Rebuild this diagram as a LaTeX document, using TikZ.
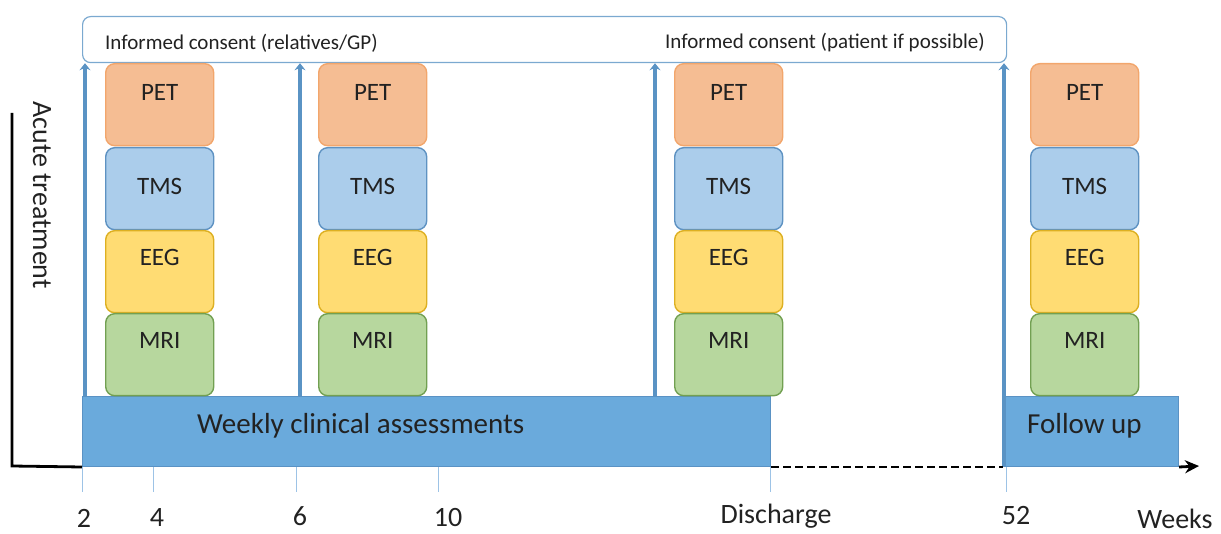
\documentclass[tikz,border=0pt]{standalone}
\usepackage{fontspec}
\setmainfont{Carlito}
\usetikzlibrary{arrows.meta}

\definecolor{petfill}{HTML}{F5BD93}
\definecolor{petdraw}{HTML}{F2A66C}
\definecolor{tmsfill}{HTML}{ABCDEB}
\definecolor{tmsdraw}{HTML}{5E92C2}
\definecolor{eegfill}{HTML}{FFDC73}
\definecolor{eegdraw}{HTML}{DDB022}
\definecolor{mrifill}{HTML}{B7D79E}
\definecolor{mridraw}{HTML}{72A052}
\definecolor{bandfill}{HTML}{6AAADC}
\definecolor{banddraw}{HTML}{5A92C4}
\definecolor{visitblue}{HTML}{5A93C4}
\definecolor{tickblue}{HTML}{9DC3E6}
\definecolor{inkgrey}{HTML}{222222}

\begin{document}
\begin{tikzpicture}[
  x=1pt, y=-1pt,
  % Node styles
  scan/.style={line width=1.4pt, rounded corners=9pt, minimum width=108pt, minimum height=82pt, anchor=north west, inner sep=0pt},
  pet/.style={scan, fill=petfill, draw=petdraw},
  tms/.style={scan, fill=tmsfill, draw=tmsdraw},
  eeg/.style={scan, fill=eegfill, draw=eegdraw},
  mri/.style={scan, fill=mrifill, draw=mridraw},
  band/.style={fill=bandfill, draw=banddraw, line width=1pt, anchor=north west, inner sep=0pt, minimum height=70pt},
  consent/.style={draw=visitblue!80, fill=white, line width=1.2pt, rounded corners=8pt, anchor=north west, inner sep=0pt},
  % Edge styles
  visit/.style={-{Stealth[length=7pt, width=11pt]}, visitblue, line width=4.5pt},
  axis/.style={black, line width=2.8pt},
  tick/.style={tickblue, line width=0.8pt},
  % Label styles
  lbl/.style={font=\fontsize{25}{30}\selectfont, text=inkgrey, inner sep=0pt},
  small/.style={font=\fontsize{21}{25}\selectfont, text=inkgrey, inner sep=0pt},
  big/.style={font=\fontsize{28}{34}\selectfont, text=inkgrey, inner sep=0pt},
  huge/.style={font=\fontsize{29}{35}\selectfont, text=inkgrey, inner sep=0pt},
]
\useasboundingbox (0,0) rectangle (1221,534);

% === CONSENT BAR ===
\node[consent, minimum width=924pt, minimum height=46pt] (consent) at (82,16) {};
\node[small, anchor=west] (relatives) at (105,43) {Informed consent (relatives/GP)};
\node[small, anchor=east] (patient)   at (985,43) {Informed consent (patient if possible)};

% === BANDS ===
\node[band, minimum width=688pt] (weekly) at (82,396) {};
\node[huge, anchor=west] (weeklytxt) at (197,426) {Weekly clinical assessments};
\node[band, minimum width=175pt] (follow) at (1003,396) {};
\node[huge, anchor=west] (followtxt) at (1027,426) {Follow up};

% === MEASUREMENT STACKS ===
\foreach \col/\x in {1/105, 2/318, 3/674, 4/1030} {
  \foreach \row/\y/\dy/\name in {pet/63/29/PET, tms/147/39/TMS, eeg/230/27/EEG, mri/313/27/MRI} {
    \node[\row] (\row\col) at (\x,\y) {};
    \node[lbl] (\row lbl\col) at (\row\col.north) [yshift=-\dy pt] {\name};
  }
}

% === VISIT ARROWS ===
\coordinate (v1) at (85,466);
\coordinate (v2) at (300,466);
\coordinate (v3) at (655,466);
\coordinate (v4) at (1004,466);
\draw[visit] (v1 |- weekly.north) -- (v1 |- consent.south);
\draw[visit] (v2 |- weekly.north) -- (v2 |- consent.south);
\draw[visit] (v3 |- weekly.north) -- (v3 |- consent.south);
\draw[visit] (v4) -- (v4 |- consent.south);

% === AXES ===
\coordinate (ytop) at (12,113);
\coordinate (origin) at (12,466);
\coordinate (xend) at (1199,466);
\draw[axis] (ytop) -- (origin) -- (weekly.south west);
\draw[axis, dash pattern=on 8pt off 4pt] (weekly.south east) -- (follow.south west);
\draw[axis, -{Stealth[length=14pt, width=13pt]}] (follow.south east) -- (xend);
\node[big, rotate=-90] (acute) at (42,195) {Acute treatment};

% === TICKS ===
\foreach \t/\x in {2/82, 4/153, 6/296, 10/438, dis/770, 52/1006} {
  \coordinate (tk\t) at (\x,467);
  \coordinate (tkend\t) at (\x,492);
  \draw[tick] (tk\t) -- (tkend\t);
}
\node[big] (l2)   at (84,518)   {2};
\node[big] (l4)   at (157,518)  {4};
\node[big] (l6)   at (300,516)  {6};
\node[big] (l10)  at (448,518)  {10};
\node[big] (ldis) at (776,516)  {Discharge};
\node[big] (l52)  at (1016,516) {52};
\node[big] (lwk)  at (1175,519) {Weeks};

\end{tikzpicture}
\end{document}
